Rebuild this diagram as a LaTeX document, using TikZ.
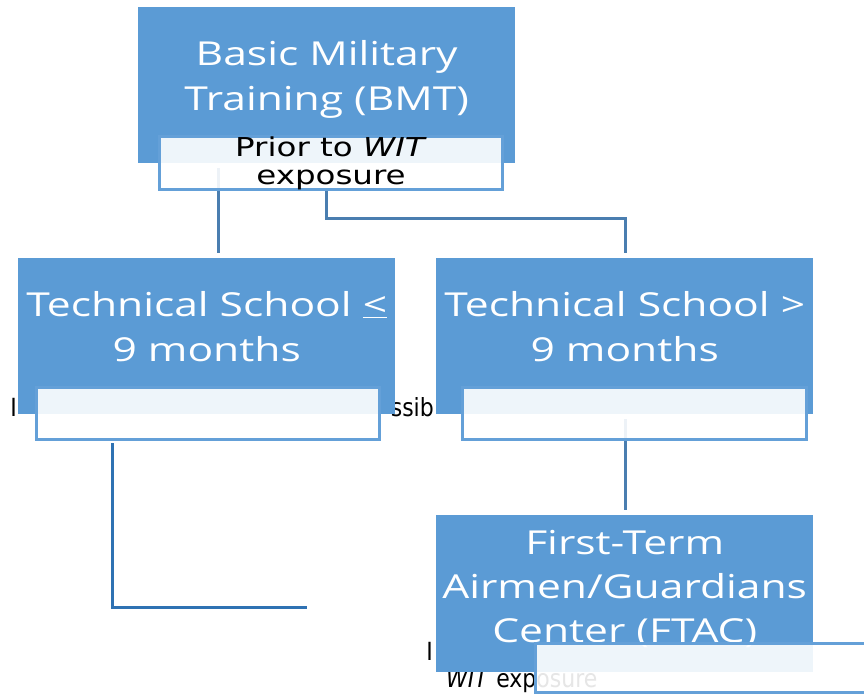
\documentclass[tikz,border=0pt]{standalone}
\usepackage{fontspec}
\newfontfamily\boxfont{Open Sans}[FakeStretch=1.29]
\newfontfamily\labfont{DejaVu Sans}[FakeStretch=1.25]
\newfontfamily\leakfont{DejaVu Sans}[FakeStretch=0.88]
\definecolor{boxblue}{HTML}{5B9BD5}
\definecolor{labline}{HTML}{64A0D8}
\definecolor{linkblue}{HTML}{4A7EB0}
\definecolor{linkdark}{HTML}{2F72B3}
\tikzset{
  mainbox/.style={fill=boxblue, draw=none, inner sep=0, anchor=north west,
    minimum width=377, minimum height=156},
  boxtext/.style={text=white, inner sep=0, align=center,
    font=\boxfont\fontsize{33}{45}\selectfont},
  labbox/.style={draw=labline, line width=3pt, fill=white, fill opacity=0.9,
    draw opacity=1, text opacity=1, inner sep=0, anchor=north west,
    minimum width=343, minimum height=52, align=center,
    font=\labfont\fontsize{26}{28}\selectfont},
  leak/.style={inner sep=0, text=black, font=\leakfont\fontsize{25}{28}\selectfont},
  link/.style={draw=linkblue, line width=3pt},
  linkb/.style={draw=linkdark, line width=3pt}
}
\begin{document}
\begin{tikzpicture}[x=1pt, y=-1pt]
\useasboundingbox (0,0) rectangle (864,693);
\clip (0,0) rectangle (864,693);
% text fragments lying under the boxes
\node[leak, anchor=base] (lk1) at (13.5,416) {I};
\node[leak, anchor=base east] (lk2) at (434,416) {ssib};
\node[leak, anchor=base] (lk3) at (429.5,660) {I};
\node[leak, anchor=base west] (lk4) at (446,687) {\textit{WIT} exposure};
% connectors
\coordinate (c1a) at (218,168);
\coordinate (c1b) at (218,253);
\coordinate (c2a) at (326,188);
\coordinate (c2b) at (625,253);
\coordinate (c3a) at (625,419);
\coordinate (c3b) at (625,510);
\coordinate (c4a) at (112,443);
\coordinate (c4b) at (307,607);
\draw[link] (c1a) -- (c1b);
\draw[link] (c2a) -- ++(0,30) -| (c2b);
\draw[link] (c3a) -- (c3b);
\draw[linkb] (c4a) |- (c4b);
% main boxes
\node[mainbox] (bmt) at (138,7) {};
\node[mainbox] (ts1) at (18,258) {};
\node[mainbox] (ts2) at (436,258) {};
\node[mainbox, minimum height=157] (ftac) at (436,515) {};
\node[boxtext] (bmt-t) at ([yshift=6]bmt.center) {Basic Military\\Training (BMT)};
\node[boxtext] (ts1-t) at ([yshift=10]ts1.center) {Technical School \underline{<}\\9 months};
\node[boxtext] (ts2-t) at ([yshift=10]ts2.center) {Technical School >\\9 months};
\node[boxtext, font=\boxfont\fontsize{33}{44}\selectfont] (ftac-t) at ([yshift=5]ftac.center) {First-Term\\Airmen/Guardians\\Center (FTAC)};
% label boxes
\node[labbox] (lb1) at (158,135) {Prior to \textit{WIT}\\exposure};
\node[labbox] (lb2) at (35,386) {};
\node[labbox, minimum width=344] (lb3) at (461,386) {};
\node[labbox, minimum width=345, minimum height=49] (lb4) at (534,642) {};
\end{tikzpicture}
\end{document}
